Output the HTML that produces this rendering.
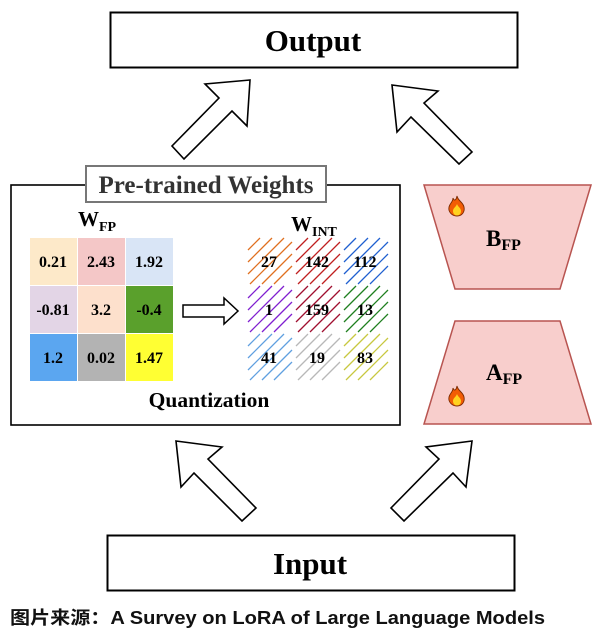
<!DOCTYPE html>
<html><head><meta charset="utf-8"><style>
html,body{margin:0;padding:0;background:#fff;}
svg{display:block;}
text{font-family:"Liberation Serif",serif;font-weight:bold;fill:#000;}
</style></head><body>
<svg width="603" height="632" viewBox="0 0 603 632" xmlns="http://www.w3.org/2000/svg">
<defs>
<g id="fire">
<path d="M10 1 C11 6 16 7 17 12 C18 17 15 21 10 21 C5 21 1 17 2 12 C3 8 6 7 6 3 C7 6 9 6 10 1Z" fill="#f25c05" stroke="#7a2a00" stroke-width="0.9"/>
<path d="M10 9 C11 12 14 13 14 16 C14 19 12 20.5 10 20.5 C8 20.5 6 19 6 16 C6 13 9 12 10 9Z" fill="#ffd21f"/>
</g>
</defs>
<rect x="110.5" y="12.5" width="407" height="55" fill="#fff" stroke="#000" stroke-width="2"/>
<text x="313" y="51" font-size="31" text-anchor="middle">Output</text>
<g fill="#fff" stroke="#000" stroke-width="1.6" stroke-linejoin="miter">
<polygon points="250,80 205,84 219,98 172,146 184,159 232,111 247,126"/>
<polygon points="392,85 438,91 424,103 472,152 459,164 411,117 397,132"/>
<polygon points="176,441 222,447 208,459 256,508 242,521 194,473 181,487"/>
<polygon points="472,441 426,447 439,459 391,508 404,521 453,473 466,487"/>
</g>
<rect x="11" y="185" width="389" height="240" fill="#fff" stroke="#000" stroke-width="1.6"/>
<rect x="86" y="166" width="240" height="36" fill="#fff" stroke="#777" stroke-width="2"/>
<text x="206" y="193" font-size="25" text-anchor="middle" style="fill:#333">Pre-trained Weights</text>
<text x="78" y="226" font-size="21">W<tspan font-size="14" dy="5">FP</tspan></text>
<text x="291" y="231" font-size="21">W<tspan font-size="14" dy="5">INT</tspan></text>
<g>
<rect x="30" y="238" width="47" height="47" fill="#fde9c9"/>
<rect x="78" y="238" width="47" height="47" fill="#f4c7c7"/>
<rect x="126" y="238" width="47" height="47" fill="#d9e5f6"/>
<rect x="30" y="286" width="47" height="47" fill="#e3d5e6"/>
<rect x="78" y="286" width="47" height="47" fill="#fde0cc"/>
<rect x="126" y="286" width="47" height="47" fill="#5aa02c"/>
<rect x="30" y="334" width="47" height="47" fill="#5ba6f0"/>
<rect x="78" y="334" width="47" height="47" fill="#b3b3b3"/>
<rect x="126" y="334" width="47" height="47" fill="#ffff33"/>
</g>
<g font-size="16">
<text x="53" y="267" text-anchor="middle">0.21</text>
<text x="101" y="267" text-anchor="middle">2.43</text>
<text x="149" y="267" text-anchor="middle">1.92</text>
<text x="53" y="315" text-anchor="middle">-0.81</text>
<text x="101" y="315" text-anchor="middle">3.2</text>
<text x="149" y="315" text-anchor="middle">-0.4</text>
<text x="53" y="363" text-anchor="middle">1.2</text>
<text x="101" y="363" text-anchor="middle">0.02</text>
<text x="149" y="363" text-anchor="middle">1.47</text>
</g>
<polygon points="183,305 224,305 224,298 238,311 224,324 224,317 183,317" fill="#fff" stroke="#000" stroke-width="1.5"/>
<g stroke-width="1.3" fill="none">
<g stroke="#e07020"><path d="M248,250 L260,238 M248,262 L272,238 M248,274 L284,238 M250,284 L292,242 M262,284 L292,254 M274,284 L292,266"/></g>
<g stroke="#c02020"><path d="M296,250 L308,238 M296,262 L320,238 M296,274 L332,238 M298,284 L340,242 M310,284 L340,254 M322,284 L340,266"/></g>
<g stroke="#2060d0"><path d="M344,250 L356,238 M344,262 L368,238 M344,274 L380,238 M346,284 L388,242 M358,284 L388,254 M370,284 L388,266"/></g>
<g stroke="#8020d0"><path d="M248,298 L260,286 M248,310 L272,286 M248,322 L284,286 M250,332 L292,290 M262,332 L292,302 M274,332 L292,314"/></g>
<g stroke="#a01030"><path d="M296,298 L308,286 M296,310 L320,286 M296,322 L332,286 M298,332 L340,290 M310,332 L340,302 M322,332 L340,314"/></g>
<g stroke="#208020"><path d="M344,298 L356,286 M344,310 L368,286 M344,322 L380,286 M346,332 L388,290 M358,332 L388,302 M370,332 L388,314"/></g>
<g stroke="#60a0e0"><path d="M248,346 L260,334 M248,358 L272,334 M248,370 L284,334 M250,380 L292,338 M262,380 L292,350 M274,380 L292,362"/></g>
<g stroke="#b8b8b8"><path d="M296,346 L308,334 M296,358 L320,334 M296,370 L332,334 M298,380 L340,338 M310,380 L340,350 M322,380 L340,362"/></g>
<g stroke="#c8c840"><path d="M344,346 L356,334 M344,358 L368,334 M344,370 L380,334 M346,380 L388,338 M358,380 L388,350 M370,380 L388,362"/></g>
</g>
<g font-size="16">
<text x="269" y="267" text-anchor="middle">27</text>
<text x="317" y="267" text-anchor="middle">142</text>
<text x="365" y="267" text-anchor="middle">112</text>
<text x="269" y="315" text-anchor="middle">1</text>
<text x="317" y="315" text-anchor="middle">159</text>
<text x="365" y="315" text-anchor="middle">13</text>
<text x="269" y="363" text-anchor="middle">41</text>
<text x="317" y="363" text-anchor="middle">19</text>
<text x="365" y="363" text-anchor="middle">83</text>
</g>
<text x="209" y="407" font-size="21.5" text-anchor="middle">Quantization</text>
<polygon points="424,185 591,185 560,289 455,289" fill="#f8cecc" stroke="#b85450" stroke-width="1.5"/>
<polygon points="455,321 560,321 591,424 424,424" fill="#f8cecc" stroke="#b85450" stroke-width="1.5"/>
<use href="#fire" x="447" y="195"/>
<use href="#fire" x="447" y="385"/>
<text x="486" y="246" font-size="23">B<tspan font-size="16" dy="4">FP</tspan></text>
<text x="486" y="380" font-size="23">A<tspan font-size="16" dy="4">FP</tspan></text>
<rect x="107.5" y="535.5" width="407" height="55" fill="#fff" stroke="#000" stroke-width="2"/>
<text x="310" y="574" font-size="31" text-anchor="middle">Input</text>
<text x="10" y="624" font-size="18" textLength="535" lengthAdjust="spacingAndGlyphs" style="font-family:'Liberation Sans','Noto Sans CJK SC',sans-serif;font-weight:bold;fill:#111">图片来源：A Survey on LoRA of Large Language Models</text>
</svg>
</body></html>
